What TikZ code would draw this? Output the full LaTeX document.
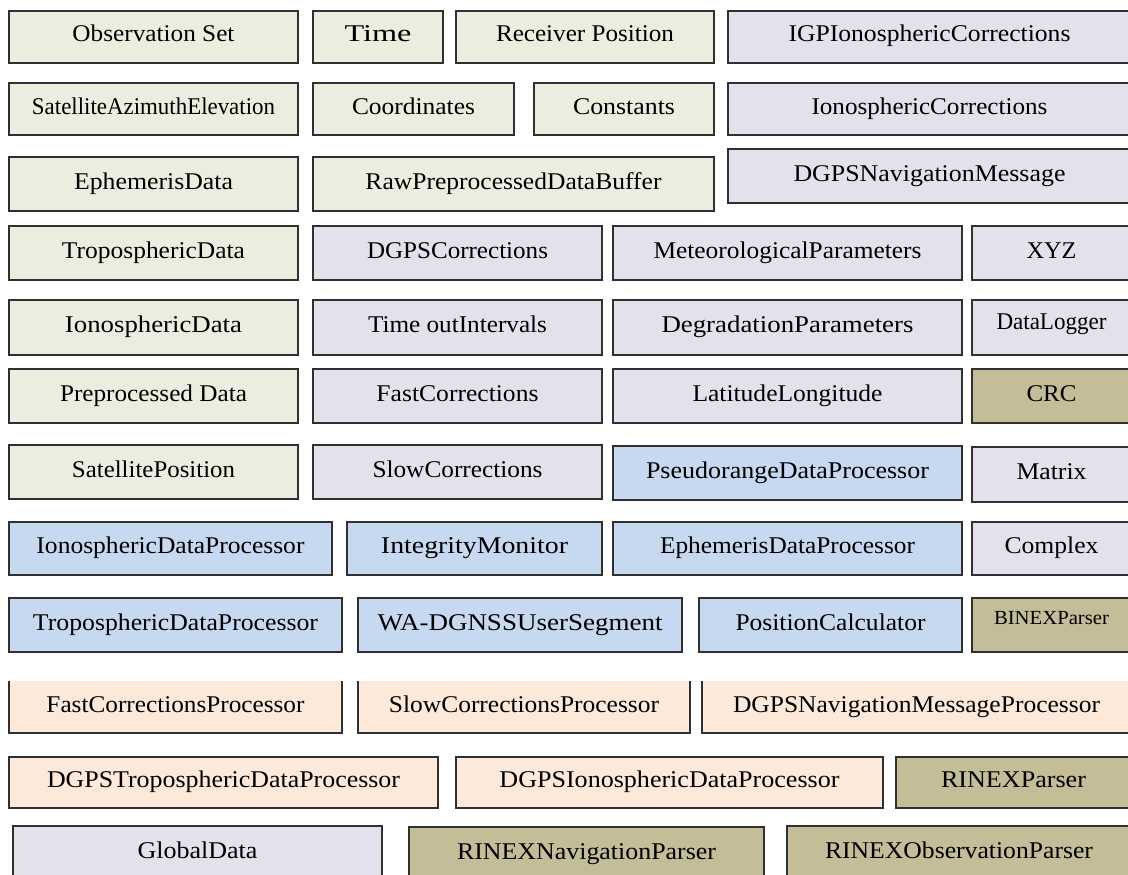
\documentclass[tikz,border=0pt]{standalone}
\usepackage{fontspec}
\setmainfont{Liberation Serif}
\usepackage{graphicx}
\definecolor{cgreen}{HTML}{EBEEDF}
\definecolor{clav}{HTML}{E4E0EC}
\definecolor{cblue}{HTML}{C6D9F1}
\definecolor{cpeach}{HTML}{FDE9D9}
\definecolor{ckhaki}{HTML}{C4BD97}
\definecolor{cedge}{HTML}{303030}
\tikzset{
  cbox/.style={draw=cedge, line width=1.5pt, rectangle, inner sep=0pt, outer sep=0pt,
    text height=13pt, text depth=3pt, font=\fontsize{24}{28}\selectfont, text=black},
  opentop/.style={draw=none},
  sideedge/.style={draw=cedge, line width=1.5pt}
}
% [extra style]{name}{x1}{y1}{x2}{y2}{colour}{text width}{text}
\newcommand\bx[9][]{\node[cbox, fill=#7, minimum width={#5-#3}, minimum height={#6-#4}, #1]
  (#2) at ({(#3+#5)/2},{(#4+#6)/2}) {\resizebox{#8pt}{\height}{#9}};}
\begin{document}
\begin{tikzpicture}[x=1pt,y=-1pt]
\useasboundingbox (0,0) rectangle (1128,875);
\clip (0,0) rectangle (1128,875);
\fill[white] (0,0) rectangle (1128,875);
% Row 1
\bx{obs}{9}{11}{298}{63}{cgreen}{162}{Observation Set}
\bx{time}{313}{11}{443}{63}{cgreen}{67}{Time}
\bx{recv}{456}{11}{714}{63}{cgreen}{178}{Receiver Position}
\bx{igp}{728}{11}{1131}{63}{clav}{282}{IGPIonosphericCorrections}
% Row 2
\bx{satae}{9}{83}{298}{135}{cgreen}{243}{SatelliteAzimuthElevation}
\bx{coord}{313}{83}{514}{135}{cgreen}{123}{Coordinates}
\bx{const}{534}{83}{714}{135}{cgreen}{102}{Constants}
\bx{ionocorr}{728}{83}{1131}{135}{clav}{236}{IonosphericCorrections}
% Row 3
\bx{ephdata}{9}{157}{298}{211}{cgreen}{159}{EphemerisData}
\bx{rawbuf}{313}{157}{714}{211}{cgreen}{296}{RawPreprocessedDataBuffer}
\bx{dgpsnav}{728}{149}{1131}{203}{clav}{272}{DGPSNavigationMessage}
% Row 4
\bx{tropdata}{9}{226}{298}{280}{cgreen}{183}{TroposphericData}
\bx{dgpscorr}{313}{226}{602}{280}{clav}{181}{DGPSCorrections}
\bx{meteo}{613}{226}{962}{280}{clav}{268}{MeteorologicalParameters}
\bx{xyz}{972}{226}{1131}{280}{clav}{50}{XYZ}
% Row 5
\bx{ionodata}{9}{300}{298}{355}{cgreen}{177}{IonosphericData}
\bx{timeout}{313}{300}{602}{355}{clav}{179}{Time outIntervals}
\bx{degr}{613}{300}{962}{355}{clav}{252}{DegradationParameters}
\bx{logger}{972}{300}{1131}{355}{clav}{110}{\raisebox{3pt}{DataLogger}}
% Row 6
\bx{preproc}{9}{369}{298}{423}{cgreen}{187}{Preprocessed Data}
\bx{fastcorr}{313}{369}{602}{423}{clav}{162}{FastCorrections}
\bx{latlon}{613}{369}{962}{423}{clav}{190}{LatitudeLongitude}
\bx{crc}{972}{369}{1131}{423}{ckhaki}{50}{CRC}
% Row 7
\bx{satpos}{9}{445}{298}{499}{cgreen}{163}{SatellitePosition}
\bx{slowcorr}{313}{445}{602}{499}{clav}{170}{SlowCorrections}
\bx{pseudo}{613}{446}{962}{500}{cblue}{283}{PseudorangeDataProcessor}
\bx{matrix}{972}{447}{1131}{502}{clav}{70}{Matrix}
% Row 8
\bx{ionoproc}{9}{522}{332}{575}{cblue}{268}{IonosphericDataProcessor}
\bx{integ}{347}{522}{602}{575}{cblue}{187}{IntegrityMonitor}
\bx{ephproc}{613}{522}{962}{575}{cblue}{255}{EphemerisDataProcessor}
\bx{complex}{972}{522}{1131}{575}{clav}{94}{Complex}
% Row 9
\bx{tropproc}{9}{598}{342}{652}{cblue}{285}{TroposphericDataProcessor}
\bx{wadgnss}{358}{598}{682}{652}{cblue}{285}{WA-DGNSSUserSegment}
\bx{poscalc}{699}{598}{962}{652}{cblue}{190}{PositionCalculator}
\node[cbox, fill=ckhaki, minimum width=159, minimum height=54, font=\fontsize{20}{24}\selectfont]
  (binex) at (1051.5,625) {\raisebox{6pt}{\resizebox{115pt}{\height}{BINEXParser}}};
% Row 10 (no top border)
\bx[opentop]{fastproc}{9}{681}{342}{733}{cpeach}{258}{FastCorrectionsProcessor}
\bx[opentop]{slowproc}{358}{681}{690}{733}{cpeach}{270}{SlowCorrectionsProcessor}
\bx[opentop]{dgpsnavproc}{702}{681}{1131}{733}{cpeach}{367}{DGPSNavigationMessageProcessor}
\foreach \n in {fastproc,slowproc,dgpsnavproc}
  \draw[sideedge] (\n.north west) -- (\n.south west) -- (\n.south east) -- (\n.north east);
% Row 11
\bx{dgpstrop}{9}{757}{438}{808}{cpeach}{353}{DGPSTroposphericDataProcessor}
\bx{dgpsiono}{456}{757}{883}{808}{cpeach}{340}{DGPSIonosphericDataProcessor}
\bx{rinex}{896}{757}{1131}{808}{ckhaki}{145}{RINEXParser}
% Row 12
\bx{global}{13}{826}{382}{880}{clav}{120}{GlobalData}
\bx{rinexnav}{409}{827}{764}{881}{ckhaki}{259}{RINEXNavigationParser}
\bx{rinexobs}{787}{826}{1131}{880}{ckhaki}{268}{RINEXObservationParser}
\end{tikzpicture}
\end{document}
